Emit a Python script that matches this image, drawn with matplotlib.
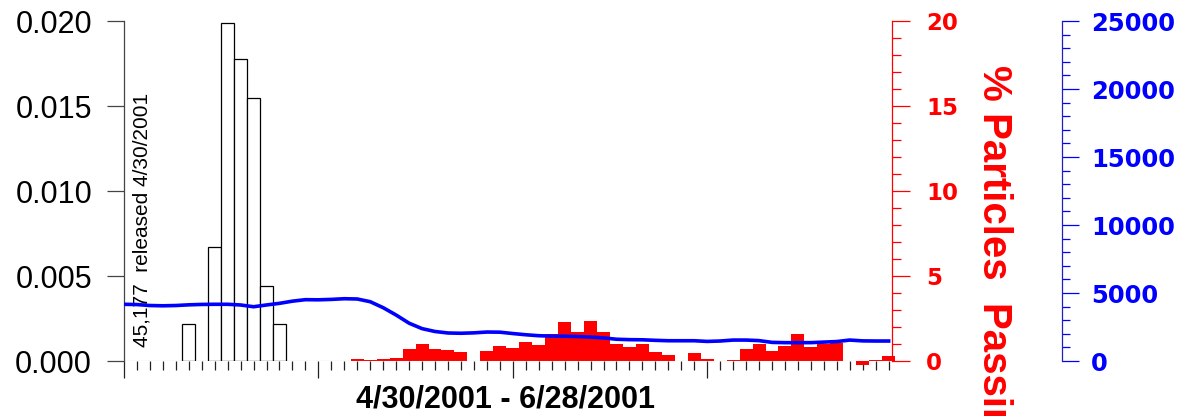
import numpy as np
import matplotlib
matplotlib.use('Agg')
from matplotlib import pyplot as plt
from matplotlib.ticker import MultipleLocator, FormatStrFormatter

plt.rcParams['font.family'] = ['Liberation Sans', 'DejaVu Sans']

# day index since release (0 = 4/30/2001)
days = np.arange(60)

# travel-time histogram, fraction of released particles per day
hist_days = [5, 7, 8, 9, 10, 11, 12]
hist_frac = [0.0022, 0.0067, 0.0199, 0.01775, 0.0155, 0.0044, 0.0022]

# daily % particles passing
pct_passing = [0, 0, 0, 0, 0, 0, 0, 0, 0, 0,
               0, 0, 0, 0, 0, 0, 0, 0, 0.12, 0.05,
               0.10, 0.18, 0.69, 0.98, 0.70, 0.63, 0.51, 0, 0.57, 0.90,
               0.75, 1.14, 0.96, 1.57, 2.29, 1.69, 2.33, 1.71, 1.02, 0.80,
               0.98, 0.53, 0.35, 0, 0.47, 0.12, 0.02, 0.06, 0.69, 1.02,
               0.57, 0.90, 1.61, 0.82, 1.00, 1.04, 0, -0.25, 0.08, 0.27]

# daily flow
flow = [4170, 4150, 4080, 4060, 4080, 4130, 4160, 4170, 4170, 4120,
        3990, 4120, 4240, 4400, 4510, 4500, 4530, 4580, 4560, 4360,
        3920, 3380, 2780, 2380, 2170, 2060, 2040, 2070, 2130, 2120,
        2020, 1930, 1860, 1830, 1820, 1800, 1760, 1700, 1600, 1570,
        1560, 1520, 1490, 1490, 1490, 1440, 1470, 1540, 1540, 1500,
        1370, 1350, 1350, 1350, 1390, 1430, 1540, 1480, 1470, 1470]

fig = plt.figure(figsize=(11.93, 4.16), dpi=100)
ax = fig.add_axes([0.1039, 0.1322, 0.6438, 0.8173])

ax.bar(hist_days, hist_frac, width=1, facecolor='white', edgecolor='black', linewidth=0.9)
ax.set_xlim(0, 59.26)
ax.set_ylim(0, 0.02)
ax.yaxis.set_major_locator(MultipleLocator(0.005))
ax.yaxis.set_major_formatter(FormatStrFormatter('%.3f'))
ax.xaxis.set_major_locator(MultipleLocator(15))
ax.xaxis.set_minor_locator(MultipleLocator(1))
ax.tick_params(axis='x', which='major', length=12.2, width=0.9, color='#222222', labelbottom=False)
ax.tick_params(axis='x', which='minor', length=6.5, width=0.9, color='#222222')
ax.tick_params(axis='y', length=12, width=0.9, color='#444444', labelsize=22, pad=11)
for s in ['top', 'right', 'bottom']:
    ax.spines[s].set_visible(False)
ax.spines['left'].set_color('#444444')
ax.spines['left'].set_linewidth(0.9)
ax.text(1.39, 0.00082, '45,177  released 4/30/2001', rotation=90,
        ha='center', va='bottom', fontsize=15)

# % passing axis
ax_r = ax.twinx()
ax_r.bar(days, pct_passing, width=1, color='red', linewidth=0, clip_on=False)
ax_r.axhline(0, color='#e8707a', lw=0.8)
ax_r.set_ylim(0, 20)
ax_r.yaxis.set_major_locator(MultipleLocator(5))
ax_r.yaxis.set_minor_locator(MultipleLocator(1))
ax_r.tick_params(axis='y', which='major', colors='red', length=13, width=0.9,
                 labelsize=16.5, pad=11.5, labelfontfamily='DejaVu Sans')
ax_r.tick_params(axis='y', which='minor', colors='red', length=6.5, width=0.9)
plt.setp(ax_r.get_yticklabels(), fontweight='bold')
for s in ['top', 'left', 'bottom']:
    ax_r.spines[s].set_visible(False)
ax_r.spines['right'].set_color('red')
ax_r.spines['right'].set_linewidth(0.9)

# flow axis
ax_b = ax.twinx()
ax_b.spines['right'].set_position(('outward', 122.4))
ax_b.plot(days, flow, color='#0000ff', lw=2.6)
ax_b.set_ylim(0, 25000)
ax_b.yaxis.set_major_locator(MultipleLocator(5000))
ax_b.yaxis.set_minor_locator(MultipleLocator(1000))
ax_b.tick_params(axis='y', which='major', colors='blue', length=12, width=0.9,
                 labelsize=17.5, pad=9, labelfontfamily='DejaVu Sans')
ax_b.tick_params(axis='y', which='minor', colors='blue', length=5.8, width=0.9)
plt.setp(ax_b.get_yticklabels(), fontweight='bold')
for s in ['top', 'left', 'bottom']:
    ax_b.spines[s].set_visible(False)
ax_b.spines['right'].set_color('#2020c0')
ax_b.spines['right'].set_linewidth(0.9)

fig.text(994 / 1193, 1 - 261 / 416, '% Particles  Passing', rotation=-90,
         ha='center', va='center', color='red', fontsize=29, fontweight='bold')
fig.text(506 / 1193, 1 - 407 / 416, '4/30/2001 - 6/28/2001', ha='center',
         va='baseline', fontsize=22, fontweight='bold')

fig.savefig('out.png', dpi=100)
